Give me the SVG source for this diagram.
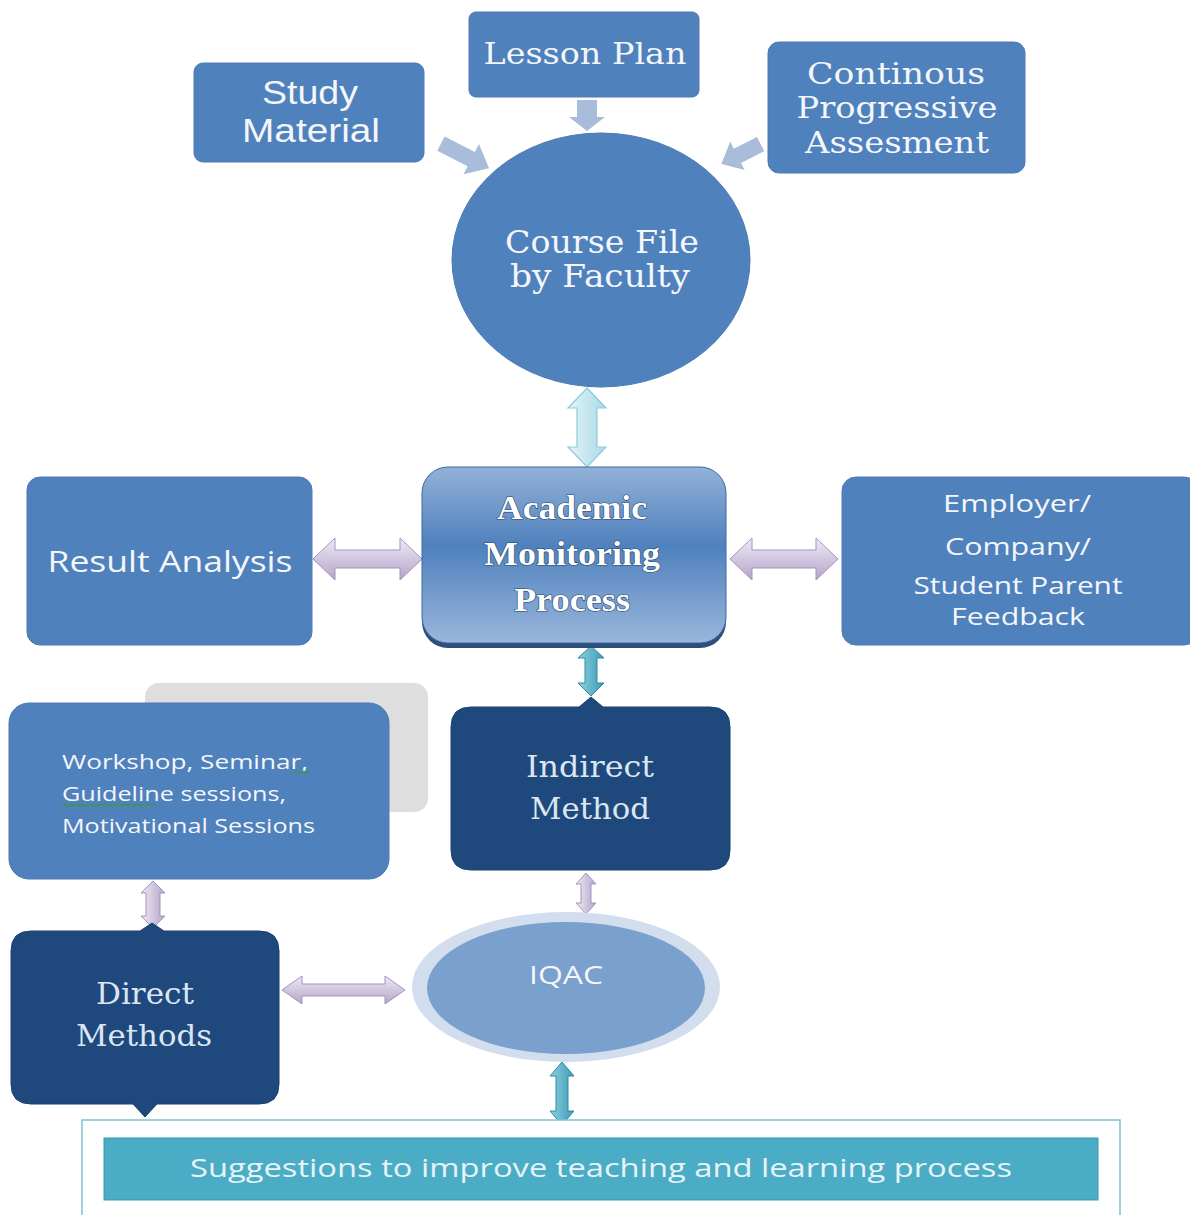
<svg xmlns="http://www.w3.org/2000/svg" width="1190" height="1215" viewBox="0 0 1190 1215">
<defs>
<linearGradient id="ampGrad" x1="0" y1="0" x2="0" y2="1">
<stop offset="0" stop-color="#93b1d9"/>
<stop offset="0.45" stop-color="#4f81bd"/>
<stop offset="1" stop-color="#9ab7dc"/>
</linearGradient>
<linearGradient id="lavV" x1="0" y1="0" x2="0" y2="1">
<stop offset="0" stop-color="#efeaf5"/>
<stop offset="1" stop-color="#b4a4c9"/>
</linearGradient>
<linearGradient id="lavH" x1="0" y1="0" x2="1" y2="0">
<stop offset="0" stop-color="#efeaf5"/>
<stop offset="1" stop-color="#b4a4c9"/>
</linearGradient>
<linearGradient id="tealH" x1="0" y1="0" x2="1" y2="0">
<stop offset="0" stop-color="#8fd0e0"/>
<stop offset="1" stop-color="#3a9bb5"/>
</linearGradient>
<linearGradient id="cyanH" x1="0" y1="0" x2="1" y2="0">
<stop offset="0" stop-color="#e2f3f7"/>
<stop offset="1" stop-color="#a9dbe7"/>
</linearGradient>
</defs>
<style>
.box{fill:#4f81bd;stroke:#4a7ab3;stroke-width:1}
.dark{fill:#1f497d;stroke:#1b416f;stroke-width:1}
.sans{font-family:"Open Sans","Liberation Sans",sans-serif;fill:#f4f6fa;text-anchor:middle}
.narrow{font-family:"Liberation Sans",sans-serif;fill:#f4f6fa;text-anchor:middle}
.serif{font-family:"DejaVu Serif","Liberation Serif",serif;fill:#f4f6fa;text-anchor:middle}
.dserif{font-family:"DejaVu Serif","Liberation Serif",serif;fill:#dce6f2;text-anchor:middle}
.bold{font-family:"Liberation Serif",serif;font-weight:bold;fill:#ffffff;text-anchor:middle;stroke:#27476e;stroke-width:1.2;paint-order:stroke}
.blk{fill:#a9bcd9}
.lav{fill:url(#lavV);stroke:#a493be;stroke-width:1}
.lavh{fill:url(#lavH);stroke:#a493be;stroke-width:1}
.teal{fill:url(#tealH);stroke:#2f8aa3;stroke-width:1}
.cyan{fill:url(#cyanH);stroke:#8ccbdb;stroke-width:1.2}
</style>

<g id="connectors">
<polygon class="blk" points="577,100 597,100 597,117 605,117 587,131 569,117 577,117"/>
<polygon class="blk" transform="translate(465,156) rotate(27)" points="-27,-8 7,-8 7,-17 27,0 7,17 7,8 -27,8"/>
<polygon class="blk" transform="translate(741,154) rotate(153)" points="-22,-8 4,-8 4,-16 22,0 4,16 4,8 -22,8"/>
<polygon class="cyan" points="587,388 606,408 597,408 597,447 606,447 587,467 568,447 577,447 577,408 568,408"/>
<polygon class="lav" points="313,559 335,538 335,550 400,550 400,538 422,559 400,580 400,568 335,568 335,580"/>
<polygon class="lav" points="730,559 752,538 752,550 816,550 816,538 838,559 816,580 816,568 752,568 752,580"/>
<polygon class="teal" points="591,646 604,658 597,658 597,683 604,683 591,696 578,683 585,683 585,658 578,658"/>
<polygon class="lavh" points="586,873 596,884 591,884 591,903 596,903 586,914 576,903 581,903 581,884 576,884"/>
<polygon class="lavh" points="153,881 165,893 160,893 160,916 165,916 153,928 141,916 146,916 146,893 141,893"/>
<polygon class="lav" points="282,990 302,976 302,984 385,984 385,976 405,990 385,1004 385,996 302,996 302,1004"/>
<polygon class="teal" points="562,1062 574,1076 568,1076 568,1111 574,1111 562,1125 550,1111 556,1111 556,1076 550,1076"/>
</g>

<g id="study-material">
<rect class="box" x="194" y="63" width="230" height="99" rx="9"/>
<text class="narrow" font-size="34" x="310" y="104" textLength="96" lengthAdjust="spacingAndGlyphs">Study</text>
<text class="narrow" font-size="34" x="311" y="142" textLength="138" lengthAdjust="spacingAndGlyphs">Material</text>
</g>

<g id="lesson-plan">
<rect class="box" x="469" y="12" width="230" height="85" rx="7"/>
<text class="serif" font-size="30" x="585" y="64" textLength="203" lengthAdjust="spacingAndGlyphs">Lesson Plan</text>
</g>

<g id="continous-assessment">
<rect class="box" x="768" y="42" width="257" height="131" rx="11"/>
<text class="serif" font-size="30" x="896" y="84" textLength="178" lengthAdjust="spacingAndGlyphs">Continous</text>
<text class="serif" font-size="30" x="897" y="118" textLength="201" lengthAdjust="spacingAndGlyphs">Progressive</text>
<text class="serif" font-size="30" x="897" y="153" textLength="184" lengthAdjust="spacingAndGlyphs">Assesment</text>
</g>

<g id="course-file">
<ellipse cx="601" cy="260" rx="149" ry="127" fill="#4f81bd" stroke="#4a7ab3"/>
<text class="serif" font-size="31" x="602" y="253" textLength="194" lengthAdjust="spacingAndGlyphs">Course File</text>
<text class="serif" font-size="31" x="600" y="287" textLength="180" lengthAdjust="spacingAndGlyphs">by Faculty</text>
</g>

<g id="academic-monitoring">
<rect x="422" y="472" width="304" height="176" rx="26" fill="#2c4f7c"/>
<rect x="422" y="467" width="304" height="176" rx="26" fill="url(#ampGrad)" stroke="#3c679b" stroke-width="1"/>
<text class="bold" font-size="34" x="572" y="519" textLength="150" lengthAdjust="spacingAndGlyphs">Academic</text>
<text class="bold" font-size="34" x="572" y="565" textLength="176" lengthAdjust="spacingAndGlyphs">Monitoring</text>
<text class="bold" font-size="34" x="572" y="611" textLength="116" lengthAdjust="spacingAndGlyphs">Process</text>
</g>

<g id="result-analysis">
<rect class="box" x="27" y="477" width="285" height="168" rx="13"/>
<text class="sans" font-size="30" x="170" y="572" textLength="245" lengthAdjust="spacingAndGlyphs">Result Analysis</text>
</g>

<g id="feedback">
<rect class="box" x="842" y="477" width="356" height="168" rx="14"/>
<text class="sans" font-size="24" x="1017" y="512" textLength="148" lengthAdjust="spacingAndGlyphs">Employer/</text>
<text class="sans" font-size="24" x="1018" y="555" textLength="146" lengthAdjust="spacingAndGlyphs">Company/</text>
<text class="sans" font-size="24" x="1018" y="594" textLength="209" lengthAdjust="spacingAndGlyphs">Student Parent</text>
<text class="sans" font-size="24" x="1018" y="625" textLength="134" lengthAdjust="spacingAndGlyphs">Feedback</text>
</g>

<g id="workshop">
<rect x="145" y="683" width="283" height="129" rx="14" fill="#dedede"/>
<rect class="box" x="9" y="703" width="380" height="176" rx="20"/>
<text class="sans" font-size="20" x="62" y="769" style="text-anchor:start" textLength="246" lengthAdjust="spacingAndGlyphs">Workshop, Seminar,</text>
<text class="sans" font-size="20" x="62" y="801" style="text-anchor:start" textLength="224" lengthAdjust="spacingAndGlyphs">Guideline sessions,</text>
<text class="sans" font-size="20" x="62" y="833" style="text-anchor:start" textLength="253" lengthAdjust="spacingAndGlyphs">Motivational Sessions</text>
<path d="M294,773 l3,-2 l3,2 l3,-2 l3,2 l3,-2" fill="none" stroke="#3a9a3a" stroke-width="1.2"/>
<path d="M62,806 l3,-2 l3,2 l3,-2 l3,2 l3,-2 l3,2 l3,-2 l3,2 l3,-2 l3,2 l3,-2 l3,2 l3,-2 l3,2 l3,-2 l3,2 l3,-2 l3,2 l3,-2 l3,2 l3,-2 l3,2 l3,-2 l3,2 l3,-2 l3,2 l3,-2 l3,2 l3,-2 l3,2 l3,-2" fill="none" stroke="#3a9a3a" stroke-width="1.2"/>
</g>

<g id="indirect-method">
<path class="dark" d="M471,707 L579,707 L591,697 L603,707 L710,707 Q730,707 730,727 L730,850 Q730,870 710,870 L471,870 Q451,870 451,850 L451,727 Q451,707 471,707 Z"/>
<text class="dserif" font-size="29" x="590" y="777" textLength="128" lengthAdjust="spacingAndGlyphs">Indirect</text>
<text class="dserif" font-size="29" x="590" y="819" textLength="120" lengthAdjust="spacingAndGlyphs">Method</text>
</g>

<g id="iqac">
<ellipse cx="566" cy="987" rx="154" ry="75" fill="#d2deed"/>
<ellipse cx="566" cy="988" rx="139" ry="66" fill="#7aa0cd"/>
<text class="sans" font-size="26" x="566" y="984" textLength="74" lengthAdjust="spacingAndGlyphs">IQAC</text>
</g>

<g id="direct-methods">
<path class="dark" d="M31,931 L140,931 L152,923 L164,931 L259,931 Q279,931 279,951 L279,1084 Q279,1104 259,1104 L157,1104 L145,1117 L133,1104 L31,1104 Q11,1104 11,1084 L11,951 Q11,931 31,931 Z"/>
<text class="dserif" font-size="29" x="145" y="1004" textLength="98" lengthAdjust="spacingAndGlyphs">Direct</text>
<text class="dserif" font-size="29" x="144" y="1046" textLength="136" lengthAdjust="spacingAndGlyphs">Methods</text>
</g>

<g id="suggestions">
<path d="M82,1215 L82,1120 L1120,1120 L1120,1215" fill="#ffffff" stroke="#7fc2d4" stroke-width="1.5"/>
<rect x="104" y="1138" width="994" height="62" fill="#4bacc6" stroke="#3a96ae" stroke-width="1"/>
<text class="sans" font-size="26" x="601" y="1177" style="fill:#e6f3f7" textLength="822" lengthAdjust="spacingAndGlyphs">Suggestions to improve teaching and learning process</text>
</g>
</svg>
